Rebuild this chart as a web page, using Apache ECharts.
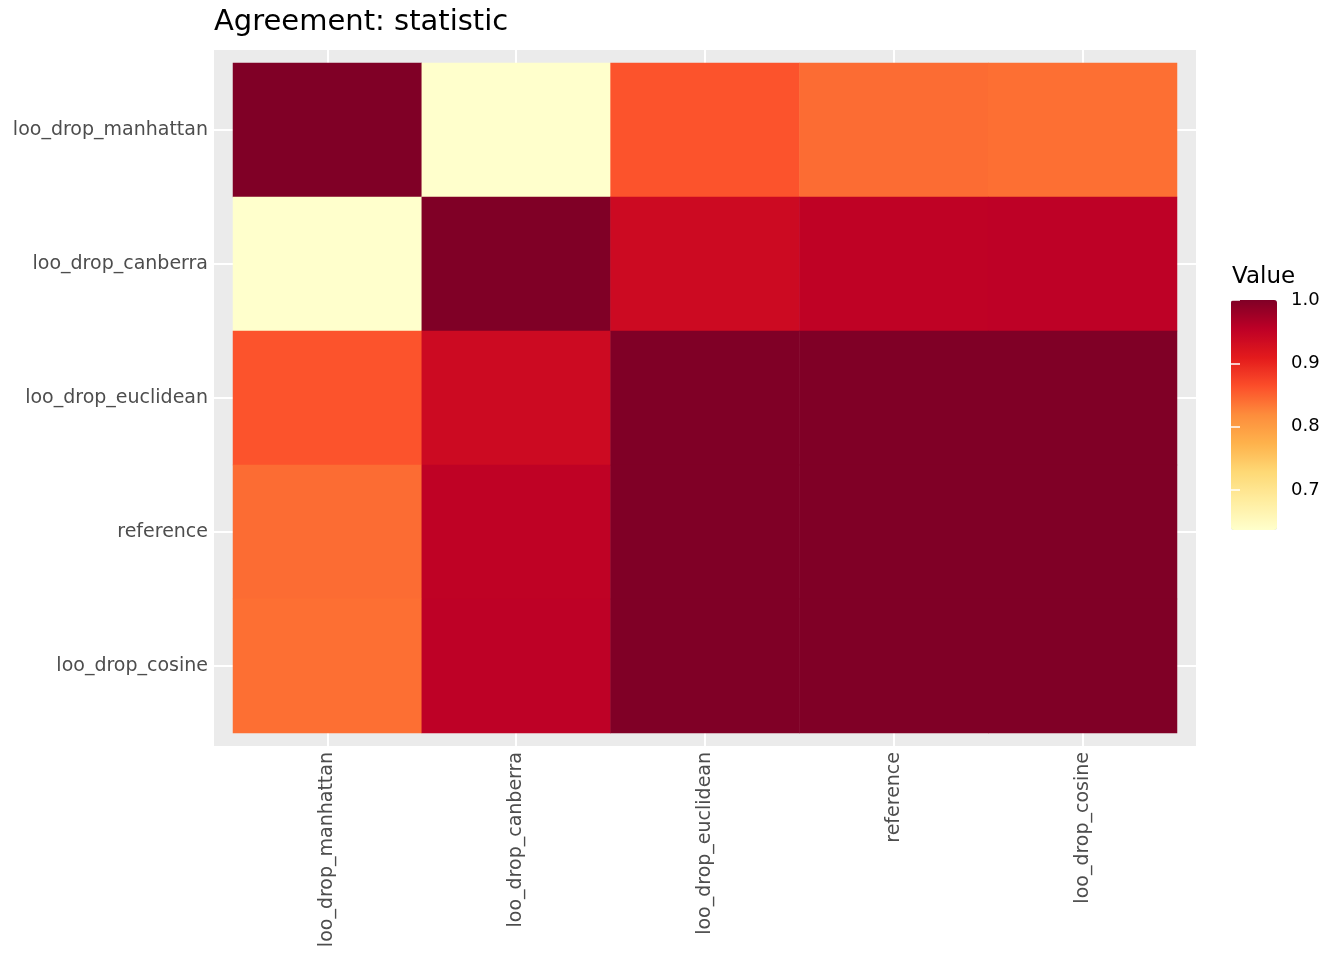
<!DOCTYPE html>
<html>
<head>
<meta charset="utf-8">
<title>Agreement: statistic</title>
<script src="https://cdn.jsdelivr.net/npm/echarts@6/dist/echarts.min.js"></script>
<style>
  html, body { margin: 0; padding: 0; background: #fff; }
  #chart { width: 1344px; height: 960px; }
</style>
</head>
<body>
<div id="chart"></div>
<script>
// categories, same order on both axes (y: top to bottom)
const categories = ["loo_drop_manhattan", "loo_drop_canberra", "loo_drop_euclidean", "reference", "loo_drop_cosine"]

// one row per y category, values per x category
const manhattanRow = [1.0, 0.637, 0.860, 0.842, 0.840]
const canberraRow = [0.637, 1.0, 0.937, 0.952, 0.953]
const euclideanRow = [0.860, 0.937, 1.0, 1.0, 1.0]
const referenceRow = [0.842, 0.952, 1.0, 1.0, 1.0]
const cosineRow = [0.840, 0.953, 1.0, 1.0, 1.0]

const legendTicks = [0.7, 0.8, 0.9, 1.0]

// YlOrRd, 9 classes
const palette = ["#ffffcc", "#ffeda0", "#fed976", "#feb24c", "#fd8d3c", "#fc4e2a", "#e31a1c", "#bd0026", "#800026"]

const rows = [manhattanRow, canberraRow, euclideanRow, referenceRow, cosineRow]
let cells = []
rows.forEach((row, yi) => {
    row.forEach((v, xi) => cells.push([xi, yi, v]))
})
const allValues = [].concat(...rows)
const vMin = Math.min(...allValues), vMax = Math.max(...allValues)

const font = "DejaVu Sans"
const gridTick = len => ({ show: true, alignWithLabel: true, inside: false, length: len, lineStyle: { color: "#fff", width: 2 } })

let chart = echarts.init(document.getElementById("chart"), null, { renderer: "canvas" })

chart.setOption({
    animation: false,
    title: [{
        text: "Agreement: statistic",
        left: 214, top: 8, padding: 0,
        textStyle: { fontFamily: font, fontSize: 29, fontWeight: "normal", color: "#000" }
    }, {
        text: "Value",
        left: 1232, top: 266, padding: 0,
        textStyle: { fontFamily: font, fontSize: 23, fontWeight: "normal", color: "#000" }
    }],
    grid: [
        // heatmap cells
        { left: 233, top: 63, width: 944, height: 670, containLabel: false },
        // grey panel
        { left: 214, top: 50, width: 982, height: 696, show: true, backgroundColor: "#EBEBEB", borderWidth: 0 },
        // colour bar
        { left: 1231, top: 300, width: 46, height: 230 }
    ],
    xAxis: [{
        type: "category", data: categories, gridIndex: 0, position: "bottom",
        axisLine: { show: false }, splitLine: { show: false },
        axisTick: gridTick(13),
        axisLabel: { rotate: 90, margin: 19, fontFamily: font, fontSize: 19, color: "#4D4D4D" }
    }, {
        type: "category", data: categories, gridIndex: 0, position: "top",
        axisLine: { show: false }, splitLine: { show: false },
        axisTick: gridTick(13), axisLabel: { show: false }
    }, {
        type: "value", gridIndex: 1, show: false
    }, {
        type: "value", gridIndex: 2, show: false
    }],
    yAxis: [{
        type: "category", data: categories, gridIndex: 0, position: "left", inverse: true,
        axisLine: { show: false }, splitLine: { show: false },
        axisTick: gridTick(19),
        axisLabel: { margin: 25, fontFamily: font, fontSize: 19, color: "#4D4D4D" }
    }, {
        type: "category", data: categories, gridIndex: 0, position: "right", inverse: true,
        axisLine: { show: false }, splitLine: { show: false },
        axisTick: gridTick(19), axisLabel: { show: false }
    }, {
        type: "value", gridIndex: 1, show: false
    }, {
        type: "value", gridIndex: 2, position: "right", min: vMin, max: vMax, z: 10,
        axisLine: { show: false }, splitLine: { show: false },
        axisTick: { show: true, inside: true, length: 9, customValues: legendTicks, lineStyle: { color: "#fff", width: 1.5 } },
        axisLabel: { margin: 14, customValues: legendTicks, formatter: v => v.toFixed(1), fontFamily: font, fontSize: 18, color: "#000" }
    }, {
        type: "value", gridIndex: 2, position: "left", min: vMin, max: vMax, z: 10,
        axisLine: { show: false }, splitLine: { show: false },
        axisTick: { show: true, inside: true, length: 9, customValues: legendTicks, lineStyle: { color: "#fff", width: 1.5 } },
        axisLabel: { show: false }
    }],
    visualMap: {
        type: "continuous", dimension: 2, seriesIndex: 0,
        min: vMin, max: vMax, calculable: false, realtime: false,
        orient: "vertical", left: 1231, top: 300, padding: 0,
        itemWidth: 46, itemHeight: 230, z: 4,
        inRange: { color: palette },
        text: null, showLabel: false
    },
    series: [{
        type: "heatmap", xAxisIndex: 0, yAxisIndex: 0,
        data: cells,
        itemStyle: { borderWidth: 0 },
        emphasis: { disabled: true }
    }]
})
</script>
</body>
</html>
